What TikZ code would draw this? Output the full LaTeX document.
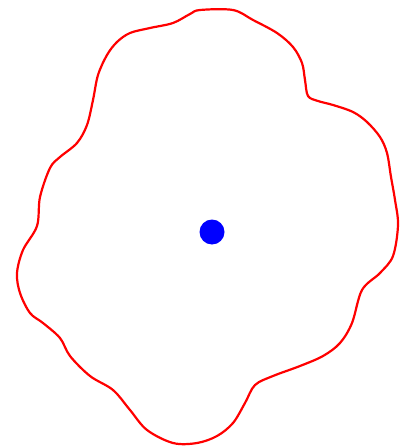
\documentclass[tikz,border=0pt]{standalone}
\usepackage{tikz}

\begin{document}
\begin{tikzpicture}[
    x=1pt,y=-1pt,
    outline/.style={draw=red,line width=2.2pt,line join=round},
    centre/.style={circle,fill=blue,inner sep=0pt,minimum size=25pt}
  ]
    \useasboundingbox (0,0) rectangle (406,446);

    % wavy outline, clockwise from the top
    \draw[outline] plot[smooth cycle,tension=0.55] coordinates {
      (200,10) (233,10) (253,20) (277,33) (293,47) (302,63) (305,80)
      (308,96) (318,101) (333,105) (353,112) (367,122) (380,137) (387,153)
      (391,177) (395,200) (398,225) (393,256) (380,273) (362,290)
      (352,323) (340,343) (323,356) (300,366) (273,376) (255,385)
      (245,403) (233,423) (217,436) (197,443) (173,443) (147,430) (130,410)
      (113,390) (90,376) (70,356) (60,338) (43,323) (30,313) (20,293)
      (17,273) (23,250) (37,226) (40,197) (50,168) (60,157)
      (77,143) (87,125) (93,100) (98,75) (107,55) (117,42)
      (130,33) (150,28) (173,23) (190,14)};

    \node[centre] (dot) at (212,232) {};
  \end{tikzpicture}
\end{document}
